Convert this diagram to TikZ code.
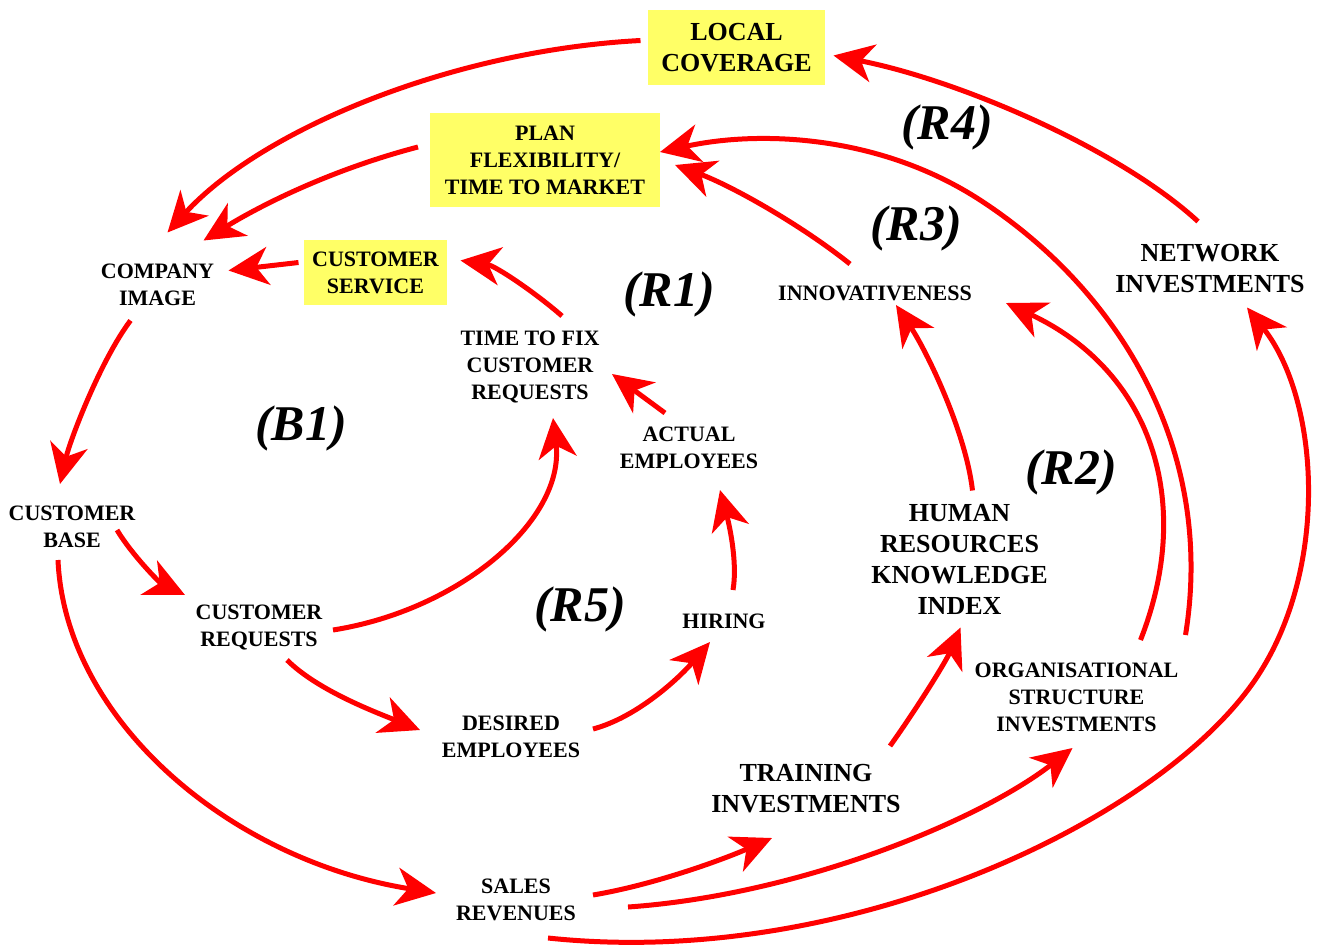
\documentclass[tikz,border=0pt]{standalone}
\usepackage{fontspec}
\setmainfont{Liberation Serif}
\usetikzlibrary{arrows.meta}
\definecolor{boxyellow}{RGB}{255,255,102}
\definecolor{arrred}{RGB}{255,0,0}
\begin{document}
\begin{tikzpicture}[x=1pt,y=-1pt,
  lab/.style={font=\bfseries\fontsize{22}{27}\selectfont, align=center, inner sep=0pt},
  labm/.style={font=\bfseries\fontsize{26}{31}\selectfont, align=center, inner sep=0pt},
  ybox/.style={fill=boxyellow},
  loopname/.style={font=\bfseries\itshape\fontsize{50}{50}\selectfont, inner sep=0pt},
  conn/.style={draw=arrred, line width=5pt, -{Stealth[length=40pt,width=38pt,inset=12pt]}}
]
\useasboundingbox (0,0) rectangle (1319,950);

% nodes
\node[labm, ybox, minimum width=177pt, minimum height=75pt] (lc) at (736.5,47.5) {LOCAL\\COVERAGE};
\node[lab, ybox, minimum width=230pt, minimum height=94pt] (pf) at (545,160) {PLAN\\FLEXIBILITY/\\TIME TO MARKET};
\node[lab, ybox, minimum width=143pt, minimum height=65pt] (cs) at (375.5,272.5) {CUSTOMER\\SERVICE};
\node[lab] (ci) at (157.5,284.5) {COMPANY\\IMAGE};
\node[lab] (cb) at (72,527) {CUSTOMER\\BASE};
\node[lab] (cr) at (259,627) {CUSTOMER\\REQUESTS};
\node[lab] (de) at (511,737) {DESIRED\\EMPLOYEES};
\node[lab] (sr) at (516,900) {SALES\\REVENUES};
\node[labm] (ti) at (806,789) {TRAINING\\INVESTMENTS};
\node[lab] (hi) at (724,621) {HIRING};
\node[lab] (ae) at (689,448) {ACTUAL\\EMPLOYEES};
\node[lab] (tf) at (530,367) {TIME TO FIX\\CUSTOMER\\REQUESTS};
\node[lab] (in) at (875,293) {INNOVATIVENESS};
\node[labm] (hr) at (959.5,559.5) {HUMAN\\RESOURCES\\KNOWLEDGE\\INDEX};
\node[lab] (os) at (1076.5,697) {ORGANISATIONAL\\STRUCTURE\\INVESTMENTS};
\node[labm] (ni) at (1210,268.5) {NETWORK\\INVESTMENTS};

% loop labels
\node[loopname] (r4) at (947,127) {(R4)};
\node[loopname] (r3) at (916,228) {(R3)};
\node[loopname] (r1) at (669,294) {(R1)};
\node[loopname] (b1) at (301,428) {(B1)};
\node[loopname] (r2) at (1071,472) {(R2)};
\node[loopname] (r5) at (580,609) {(R5)};

% connectors
\draw[conn] ([shift={(-12,-47)}]ni.center) .. controls +(-78,-72) and +(127,25) .. ([shift={(97,8)}]lc.center);
\draw[conn] ([shift={(-96,-7)}]lc.center) .. controls +(-190,10) and +(93,-102) .. ([shift={(10,-52)}]ci.center);
\draw[conn] ([shift={(-127,-13)}]pf.center) .. controls +(-88,23) and +(57,-35) .. ([shift={(46,-44)}]ci.center);
\draw[conn] ([shift={(-77,-10)}]cs.center) -- ([shift={(71,-14)}]ci.center);
\draw[conn] ([shift={(-27,36)}]ci.center) .. controls +(-30,40) and +(10,-44) .. ([shift={(-12,-43)}]cb.center);
\draw[conn] ([shift={(45,3)}]cb.center) .. controls +(15,25) and +(-25,-12) .. ([shift={(-74,-32)}]cr.center);
\draw[conn] ([shift={(-14,33)}]cb.center) .. controls +(7,160) and +(-206,-33) .. ([shift={(-80,-7)}]sr.center);
\draw[conn] ([shift={(28,33)}]cr.center) .. controls +(30,30) and +(-45,-18) .. ([shift={(-91,-7)}]de.center);
\draw[conn] ([shift={(74,3)}]cr.center) .. controls +(127,-20) and +(12,102) .. ([shift={(23,51)}]tf.center);
\draw[conn] ([shift={(82,-8)}]de.center) .. controls +(45,-12) and +(-30,35) .. ([shift={(-14,21)}]hi.center);
\draw[conn] ([shift={(9,-31)}]hi.center) .. controls +(5,-30) and +(8,30) .. ([shift={(31,42)}]ae.center);
\draw[conn] ([shift={(-24,-35)}]ae.center) -- ([shift={(82,7)}]tf.center);
\draw[conn] ([shift={(32,-51)}]tf.center) .. controls +(-25,-22) and +(35,5) .. ([shift={(85,-12)}]cs.center);
\draw[conn] ([shift={(77,-5)}]sr.center) .. controls +(60,-10) and +(-50,22) .. ([shift={(-34,49)}]ti.center);
\draw[conn] ([shift={(112,7)}]sr.center) .. controls +(172,-12) and +(-92,72) .. ([shift={(-4,51)}]os.center);
\draw[conn] ([shift={(32,38)}]sr.center) .. controls +(302,32) and (1160,819) .. (1255,680)
   .. controls (1330,570) and (1320,400) .. ([shift={(37,39)}]ni.center);
\draw[conn] ([shift={(84,-43)}]ti.center) .. controls +(25,-35) and +(-15,35) .. ([shift={(1,68)}]hr.center);
\draw[conn] ([shift={(13,-69)}]hr.center) .. controls +(-7,-60) and +(30,45) .. ([shift={(21,12)}]in.center);
\draw[conn] ([shift={(-25,-29)}]in.center) .. controls +(-50,-40) and +(55,20) .. ([shift={(130,5)}]pf.center);
\draw[conn] ([shift={(64,-57)}]os.center) .. controls +(55,-140) and +(144,67) .. ([shift={(131,10)}]in.center);
\draw[conn] ([shift={(109,-62)}]os.center) .. controls +(30,-185) and (1120,291) .. (980,200)
   .. controls (880,135) and (760,130) .. ([shift={(115,-8)}]pf.center);
\end{tikzpicture}
\end{document}
